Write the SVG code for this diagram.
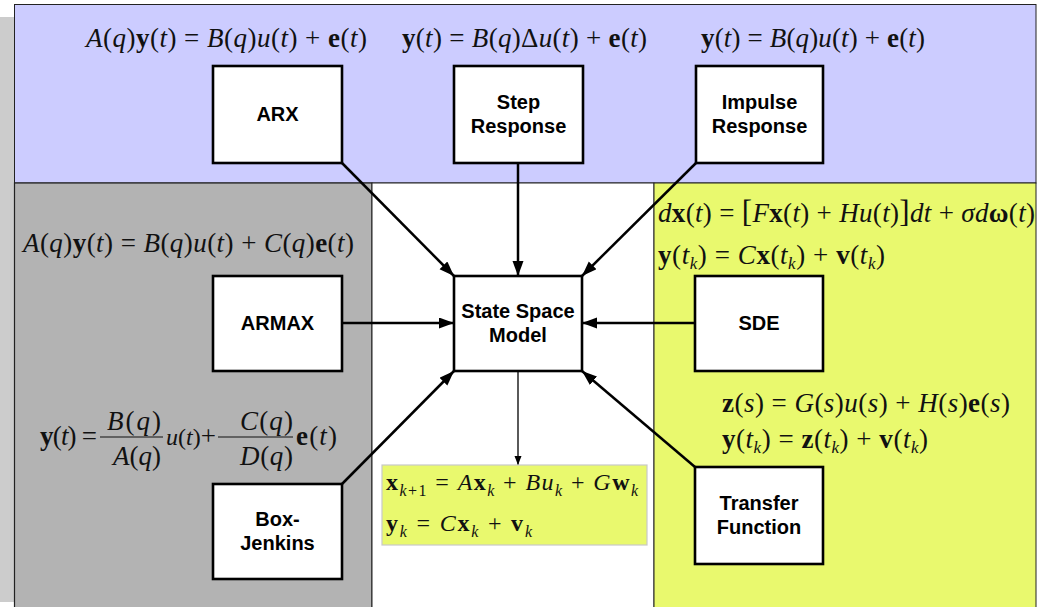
<svg xmlns="http://www.w3.org/2000/svg" width="1038" height="607" viewBox="0 0 1038 607">
  <defs>
    <style>
      .node rect { fill: #ffffff; stroke: #000000; stroke-width: 2.6; }
      .node text { font-family: "Liberation Sans", Arial, sans-serif; font-weight: bold; font-size: 20px; fill: #000000; text-anchor: middle; }
      .conn { stroke: #000000; stroke-width: 2.5; fill: none; marker-end: url(#head); }
      .conn-thin { stroke: #000000; stroke-width: 1.3; fill: none; marker-end: url(#headSmall); }
      .m { font-family: "Liberation Serif", "Times New Roman", serif; font-size: 27px; fill: #111111; }
      .m .i { font-style: italic; }
      .m .b { font-weight: bold; }
      .m .s { font-style: italic; font-size: 17px; }
      .m24 { font-size: 24px; }
      .m24 .s { font-size: 16px; }
      .frac { stroke: #111111; stroke-width: 1.2; }
    </style>
    <marker id="head" markerUnits="userSpaceOnUse" markerWidth="16" markerHeight="12" refX="15" refY="5.5" orient="auto">
      <path d="M0,0 L15,5.5 L0,11 z" fill="#000000"/>
    </marker>
    <marker id="headSmall" markerUnits="userSpaceOnUse" markerWidth="10" markerHeight="8" refX="9" refY="3.5" orient="auto">
      <path d="M0,0 L9,3.5 L0,7 z" fill="#000000"/>
    </marker>
  </defs>

  <!-- page background and shadow strip -->
  <rect x="0" y="0" width="1038" height="607" fill="#ffffff"/>
  <rect x="0" y="17" width="15" height="585" fill="#cccccc"/>

  <!-- regions -->
  <g id="regions">
    <rect x="14.5" y="4.5" width="1021.5" height="178.5" fill="#ccccff" stroke="#222222" stroke-width="1"/>
    <rect x="14.5" y="183" width="357.5" height="430" fill="#b3b3b3" stroke="#222222" stroke-width="1.2"/>
    <rect x="372" y="183" width="282" height="430" fill="#ffffff" stroke="#222222" stroke-width="1"/>
    <rect x="654" y="183" width="382" height="430" fill="#e9f96e" stroke="#222222" stroke-width="1"/>
  </g>

  <!-- connectors -->
  <g id="connectors">
    <line class="conn" x1="342" y1="163" x2="454" y2="276"/>
    <line class="conn" x1="518" y1="163" x2="518" y2="276"/>
    <line class="conn" x1="696" y1="163" x2="582" y2="276"/>
    <line class="conn" x1="342" y1="323" x2="454" y2="323"/>
    <line class="conn" x1="695" y1="323" x2="582" y2="323"/>
    <line class="conn" x1="342" y1="484" x2="454" y2="371"/>
    <line class="conn" x1="695" y1="467" x2="582" y2="371"/>
    <line class="conn-thin" x1="518" y1="371" x2="518" y2="465"/>
  </g>

  <!-- nodes -->
  <g id="arx" class="node">
    <rect x="213" y="66" width="129" height="97"/>
    <text x="277.5" y="121">ARX</text>
  </g>
  <g id="step-response" class="node">
    <rect x="454" y="66" width="129" height="97"/>
    <text x="518.5" y="109">Step</text>
    <text x="518.5" y="133">Response</text>
  </g>
  <g id="impulse-response" class="node">
    <rect x="696" y="66" width="127" height="97"/>
    <text x="759.5" y="109">Impulse</text>
    <text x="759.5" y="133">Response</text>
  </g>
  <g id="armax" class="node">
    <rect x="213" y="276" width="129" height="95"/>
    <text x="277.5" y="330">ARMAX</text>
  </g>
  <g id="state-space-model" class="node">
    <rect x="454" y="276" width="128" height="95"/>
    <text x="518" y="318">State Space</text>
    <text x="518" y="342">Model</text>
  </g>
  <g id="sde" class="node">
    <rect x="695" y="276" width="128" height="95"/>
    <text x="759" y="330">SDE</text>
  </g>
  <g id="box-jenkins" class="node">
    <rect x="213" y="484" width="129" height="95"/>
    <text x="277.5" y="526">Box-</text>
    <text x="277.5" y="550">Jenkins</text>
  </g>
  <g id="transfer-function" class="node">
    <rect x="695" y="467" width="128" height="97"/>
    <text x="759" y="510">Transfer</text>
    <text x="759" y="534">Function</text>
  </g>

  <!-- discrete state space result box -->
  <g id="state-space-equations">
    <rect x="382" y="465" width="265" height="80" fill="#e9f96e" stroke="#c8c8c8" stroke-width="1.2"/>
    <text class="m m24" x="386" y="490" textLength="252" lengthAdjust="spacing"><tspan class="b">x</tspan><tspan class="s" dy="6">k</tspan><tspan font-size="16">+1</tspan><tspan dy="-6"> = </tspan><tspan class="i">A</tspan><tspan class="b">x</tspan><tspan class="s" dy="6">k</tspan><tspan dy="-6"> + </tspan><tspan class="i">Bu</tspan><tspan class="s" dy="6">k</tspan><tspan dy="-6"> + </tspan><tspan class="i">G</tspan><tspan class="b">w</tspan><tspan class="s" dy="6">k</tspan></text>
    <text class="m m24" x="386" y="531" textLength="146" lengthAdjust="spacing"><tspan class="b">y</tspan><tspan class="s" dy="6">k</tspan><tspan dy="-6"> = </tspan><tspan class="i">C</tspan><tspan class="b">x</tspan><tspan class="s" dy="6">k</tspan><tspan dy="-6"> + </tspan><tspan class="b">v</tspan><tspan class="s" dy="6">k</tspan></text>
  </g>

  <!-- model equations -->
  <g id="equations">
    <!-- ARX -->
    <text class="m" x="86" y="47" textLength="281" lengthAdjust="spacing"><tspan class="i">A</tspan>(<tspan class="i">q</tspan>)<tspan class="b">y</tspan>(<tspan class="i">t</tspan>) = <tspan class="i">B</tspan>(<tspan class="i">q</tspan>)<tspan class="i">u</tspan>(<tspan class="i">t</tspan>) + <tspan class="b">e</tspan>(<tspan class="i">t</tspan>)</text>
    <!-- step response -->
    <text class="m" x="402" y="47" textLength="245" lengthAdjust="spacing"><tspan class="b">y</tspan>(<tspan class="i">t</tspan>) = <tspan class="i">B</tspan>(<tspan class="i">q</tspan>)Δ<tspan class="i">u</tspan>(<tspan class="i">t</tspan>) + <tspan class="b">e</tspan>(<tspan class="i">t</tspan>)</text>
    <!-- impulse response -->
    <text class="m" x="701" y="47" textLength="224" lengthAdjust="spacing"><tspan class="b">y</tspan>(<tspan class="i">t</tspan>) = <tspan class="i">B</tspan>(<tspan class="i">q</tspan>)<tspan class="i">u</tspan>(<tspan class="i">t</tspan>) + <tspan class="b">e</tspan>(<tspan class="i">t</tspan>)</text>
    <!-- ARMAX -->
    <text class="m" x="23" y="252" textLength="331" lengthAdjust="spacing"><tspan class="i">A</tspan>(<tspan class="i">q</tspan>)<tspan class="b">y</tspan>(<tspan class="i">t</tspan>) = <tspan class="i">B</tspan>(<tspan class="i">q</tspan>)<tspan class="i">u</tspan>(<tspan class="i">t</tspan>) + <tspan class="i">C</tspan>(<tspan class="i">q</tspan>)<tspan class="b">e</tspan>(<tspan class="i">t</tspan>)</text>

    <!-- Box-Jenkins -->
    <g id="bj-equation">
      <text class="m" x="40" y="445" textLength="57" lengthAdjust="spacing"><tspan class="b">y</tspan>(<tspan class="i">t</tspan>) =</text>
      <line class="frac" x1="100" y1="437" x2="163" y2="437"/>
      <text class="m" x="107" y="430" textLength="54" lengthAdjust="spacing"><tspan class="i">B</tspan>(<tspan class="i">q</tspan>)</text>
      <text class="m" x="113" y="465" textLength="48" lengthAdjust="spacing"><tspan class="i">A</tspan>(<tspan class="i">q</tspan>)</text>
      <text class="m" x="166" y="445"><tspan font-size="24"><tspan class="i">u</tspan>(<tspan class="i">t</tspan>)</tspan>+</text>
      <line class="frac" x1="218" y1="437" x2="293" y2="437"/>
      <text class="m" x="240" y="430" textLength="53" lengthAdjust="spacing"><tspan class="i">C</tspan>(<tspan class="i">q</tspan>)</text>
      <text class="m" x="240" y="465" textLength="53" lengthAdjust="spacing"><tspan class="i">D</tspan>(<tspan class="i">q</tspan>)</text>
      <text class="m" x="296" y="445" textLength="41" lengthAdjust="spacing"><tspan class="b">e</tspan>(<tspan class="i">t</tspan>)</text>
    </g>

    <!-- SDE -->
    <text class="m" x="658" y="222" textLength="377" lengthAdjust="spacing"><tspan class="i">d</tspan><tspan class="b">x</tspan>(<tspan class="i">t</tspan>) = <tspan font-size="31">[</tspan><tspan class="i">F</tspan><tspan class="b">x</tspan>(<tspan class="i">t</tspan>) + <tspan class="i">Hu</tspan>(<tspan class="i">t</tspan>)<tspan font-size="31">]</tspan><tspan class="i">dt</tspan> + <tspan class="i">σd</tspan><tspan class="b">ω</tspan>(<tspan class="i">t</tspan>)</text>
    <text class="m" x="658" y="264" textLength="227" lengthAdjust="spacing"><tspan class="b">y</tspan>(<tspan class="i">t</tspan><tspan class="s" dy="5">k</tspan><tspan dy="-5">) = </tspan><tspan class="i">C</tspan><tspan class="b">x</tspan>(<tspan class="i">t</tspan><tspan class="s" dy="5">k</tspan><tspan dy="-5">) + </tspan><tspan class="b">v</tspan>(<tspan class="i">t</tspan><tspan class="s" dy="5">k</tspan><tspan dy="-5">)</tspan></text>

    <!-- transfer function -->
    <text class="m" x="722" y="412" textLength="288" lengthAdjust="spacing"><tspan class="b">z</tspan>(<tspan class="i">s</tspan>) = <tspan class="i">G</tspan>(<tspan class="i">s</tspan>)<tspan class="i">u</tspan>(<tspan class="i">s</tspan>) + <tspan class="i">H</tspan>(<tspan class="i">s</tspan>)<tspan class="b">e</tspan>(<tspan class="i">s</tspan>)</text>
    <text class="m" x="722" y="448" textLength="206" lengthAdjust="spacing"><tspan class="b">y</tspan>(<tspan class="i">t</tspan><tspan class="s" dy="5">k</tspan><tspan dy="-5">) = </tspan><tspan class="b">z</tspan>(<tspan class="i">t</tspan><tspan class="s" dy="5">k</tspan><tspan dy="-5">) + </tspan><tspan class="b">v</tspan>(<tspan class="i">t</tspan><tspan class="s" dy="5">k</tspan><tspan dy="-5">)</tspan></text>
  </g>
</svg>
